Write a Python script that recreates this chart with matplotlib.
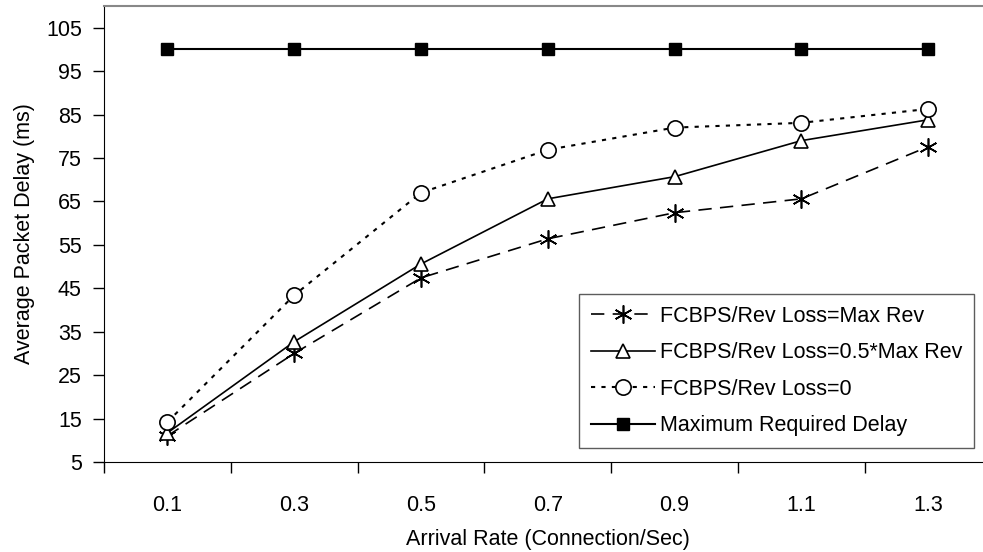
import matplotlib
matplotlib.use("Agg")
import matplotlib.pyplot as plt
import numpy as np

plt.rcParams['font.family'] = ['Liberation Sans', 'DejaVu Sans']

categories = ["0.1", "0.3", "0.5", "0.7", "0.9", "1.1", "1.3"]
rev_max = [11, 30, 47.4, 56.4, 62.4, 65.6, 77.6]
rev_half = [11.7, 32.7, 50.6, 65.6, 70.7, 79, 83.8]
rev_zero = [14.2, 43.4, 67, 76.9, 82, 83.1, 86.3]
max_required = [100, 100, 100, 100, 100, 100, 100]
yticks = [5, 15, 25, 35, 45, 55, 65, 75, 85, 95, 105]

W, H = 983, 552
fig = plt.figure(figsize=(W / 100, H / 100), dpi=100)
left, right, bottom, top = 104, 104 + 7 * 126.8, 462, 6
ax = fig.add_axes([left / W, 1 - bottom / H, (right - left) / W, (bottom - top) / H])

x = np.arange(len(categories))
fs = 15.5

ax.plot(x, rev_max, color='black', lw=1.2, dashes=(8, 5), marker=(6, 2, 0),
        markersize=13, markeredgewidth=1.2, label='FCBPS/Rev Loss=Max Rev')
ax.plot(x, rev_half, color='black', lw=1.2, linestyle='-', marker='^',
        markersize=10.5, markerfacecolor='white', markeredgewidth=1.2,
        label='FCBPS/Rev Loss=0.5*Max Rev')
ax.plot(x, rev_zero, color='black', lw=1.5, dashes=(2, 3), marker='o',
        markersize=11, markerfacecolor='white', markeredgewidth=1.2,
        label='FCBPS/Rev Loss=0')
ax.plot(x, max_required, color='black', lw=1.5, linestyle='-', marker='s',
        markersize=9, markerfacecolor='black', label='Maximum Required Delay')

ax.set_xlim(-0.5, len(categories) - 0.5)
ax.set_ylim(5, 110)
ax.set_yticks(yticks)
ax.set_yticklabels([str(v) for v in yticks], fontsize=fs)
ax.set_xticks(x)
ax.set_xticklabels(categories, fontsize=fs)
ax.set_xticks(np.arange(-0.5, len(categories) + 0.5, 1), minor=True)
ax.tick_params(axis='x', which='major', length=0, pad=24)
ax.tick_params(axis='x', which='minor', length=8, width=1, direction='out')
ax.tick_params(axis='y', which='major', length=8, width=1, direction='out', pad=8)

ax.spines['left'].set_color('black')
ax.spines['bottom'].set_color('black')
ax.spines['top'].set_color('#888888')
ax.spines['top'].set_linewidth(1.5)
ax.spines['right'].set_visible(False)

ax.set_xlabel('Arrival Rate (Connection/Sec)', fontsize=fs, labelpad=9)
ax.set_ylabel('Average Packet Delay (ms)', fontsize=fs, labelpad=8)

leg = ax.legend(loc='upper left', bbox_to_anchor=(579 / W, 1 - 294 / H),
                bbox_transform=fig.transFigure, fontsize=fs, frameon=True,
                fancybox=False, edgecolor='#333333', handlelength=3.0,
                handletextpad=0.2, labelspacing=0.72, borderpad=0.55,
                borderaxespad=0)
leg.get_frame().set_linewidth(1.0)

fig.savefig('out.png', dpi=100)
